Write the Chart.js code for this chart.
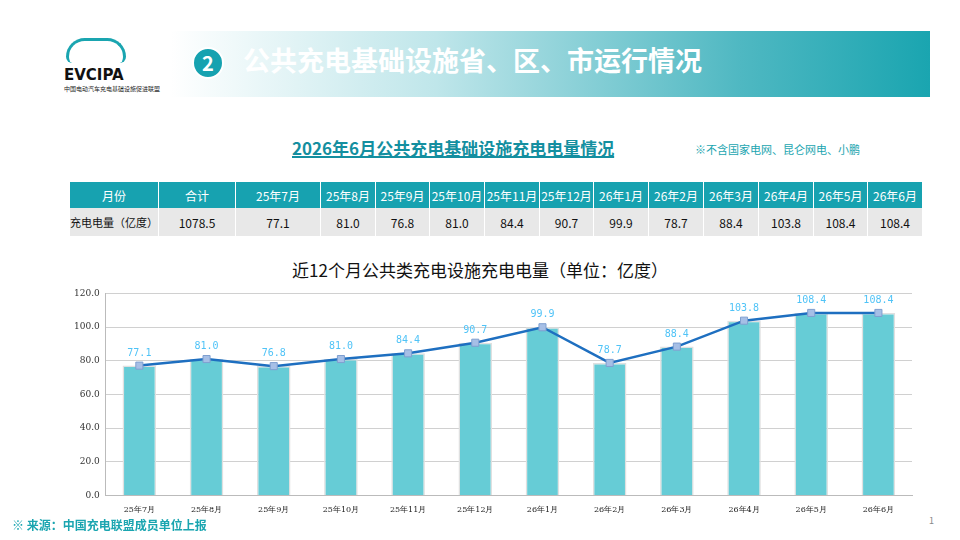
<!DOCTYPE html>
<html><head><meta charset="utf-8">
<script src="https://cdn.jsdelivr.net/npm/chart.js@4/dist/chart.umd.min.js"></script>
<style>
body{margin:0;width:960px;height:540px;background:#fff;position:relative;overflow:hidden;font-family:"Noto Sans CJK SC","Noto Sans",sans-serif}
.banner{position:absolute;left:170px;top:31px;width:760px;height:66px;background:linear-gradient(90deg,#fff 0%,#bfe6ea 35%,#4fb8c2 75%,#1aa5b0 100%)}
.circ{position:absolute;left:192px;top:47px;width:28px;height:28px;border-radius:50%;background:#16a2b0;border:2px solid #fff;color:#fff;font-weight:bold;font-size:20px;text-align:center;line-height:28px}
.btitle{position:absolute;left:243px;top:40px;color:#fff;font-weight:bold;font-size:27px}
.logo{position:absolute;left:64px;top:66px;font-family:"DejaVu Sans";font-weight:bold;font-size:15px;color:#111}
.logosub{position:absolute;left:64px;top:84px;font-size:6px;color:#222}
.car{position:absolute;left:66px;top:38px;width:54px;height:22px;border:3px solid #1aa5b0;border-radius:24px 24px 8px 8px;border-bottom:none}
.t2{position:absolute;left:292px;top:135px;font-weight:bold;font-size:17px;color:#148fa0;text-decoration:underline;text-decoration-thickness:2px}
.note{position:absolute;left:695px;top:141px;font-size:11px;color:#1aa5b0}
table{position:absolute;left:70px;top:182px;border-collapse:collapse;font-size:12px}
td{height:26px;text-align:center;border-right:1px solid #fff;padding:0;white-space:nowrap}
tr.h td{background:#17a2b0;color:#fff}
tr.d td{background:#e8e8e8;color:#111;height:28px}
tr.d td:first-child{font-size:11px}
.ct{position:absolute;left:0;width:960px;top:257px;text-align:center;font-size:17px;color:#111}
.src{position:absolute;left:12px;top:516px;color:#1aa5b0;font-size:12px;font-weight:bold}
.pg{position:absolute;left:929px;top:514px;color:#888;font-size:9px}
#w{position:absolute;left:68px;top:282px;width:852px;height:235px}
</style></head><body>
<div class="car"></div>
<div class="logo">EVCIPA</div>
<div class="logosub">中国电动汽车充电基础设施促进联盟</div>
<div class="banner"></div>
<div class="circ">2</div>
<div class="btitle">公共充电基础设施省、区、市运行情况</div>
<div class="t2">2026年6月公共充电基础设施充电电量情况</div>
<div class="note">※不含国家电网、昆仑网电、小鹏</div>
<table id="tb"></table>
<div class="ct">近12个月公共类充电设施充电电量（单位：亿度）</div>
<div id="w"><canvas id="c"></canvas></div>
<div class="src">※ 来源：中国充电联盟成员单位上报</div>
<div class="pg">1</div>
<script>
const months=["25年7月","25年8月","25年9月","25年10月","25年11月","25年12月","26年1月","26年2月","26年3月","26年4月","26年5月","26年6月"];
const values=[77.1,81.0,76.8,81.0,84.4,90.7,99.9,78.7,88.4,103.8,108.4,108.4];
const total=1078.5;
const yTicks=[0,20,40,60,80,100,120];
const widths=[86,76,84,54,53,54,54,53,54,54,54,54,53,54];
let h='<tr class="h"><td style="width:'+widths[0]+'px">月份</td><td style="width:'+widths[1]+'px">合计</td>';
months.forEach((m,i)=>h+='<td style="width:'+widths[i+2]+'px">'+m+'</td>');
h+='</tr><tr class="d"><td>充电电量（亿度）</td><td>'+total.toFixed(1)+'</td>';
values.forEach(v=>h+='<td>'+v.toFixed(1)+'</td>');
document.getElementById('tb').innerHTML=h+'</tr>';
const lbl={id:'lbl',afterDatasetsDraw(ch){const c=ch.ctx,m=ch.getDatasetMeta(1);c.save();c.font='10px "DejaVu Sans Mono"';c.fillStyle='#4fc3f7';c.textAlign='center';
m.data.forEach((p,i)=>c.fillText(values[i].toFixed(1),p.x,p.y-10));c.restore();}};
new Chart(document.getElementById('c'),{data:{labels:months,datasets:[
{type:'line',data:values,borderColor:'#1e6fc0',borderWidth:2.5,pointStyle:'rect',pointRadius:5,pointBackgroundColor:'#a6bfe6',pointBorderColor:'#7f9fd0',pointBorderWidth:1,order:0,tension:0},
{type:'bar',data:values,backgroundColor:'#66ccd6',borderColor:'#e0e0e0',borderWidth:1.5,barPercentage:0.5,categoryPercentage:1,order:1}]},
options:{responsive:true,maintainAspectRatio:false,animation:false,layout:{padding:{left:0,right:8,top:5}},
plugins:{legend:{display:false},tooltip:{enabled:false}},
scales:{y:{min:0,max:120,afterBuildTicks:a=>{a.ticks=yTicks.map(v=>({value:v}))},ticks:{font:{family:'DejaVu Serif',size:9},color:'#333',padding:6,callback:v=>v.toFixed(1)},
grid:{color:'#d0d0d0',borderDash:[6,3,1,3],drawTicks:false},border:{display:true,color:'#bbb'}},
x:{ticks:{font:{family:'DejaVu Serif',size:8},color:'#222',maxRotation:0,padding:2},grid:{display:false},border:{color:'#bbb'}}}},
plugins:[lbl]});
</script></body></html>
